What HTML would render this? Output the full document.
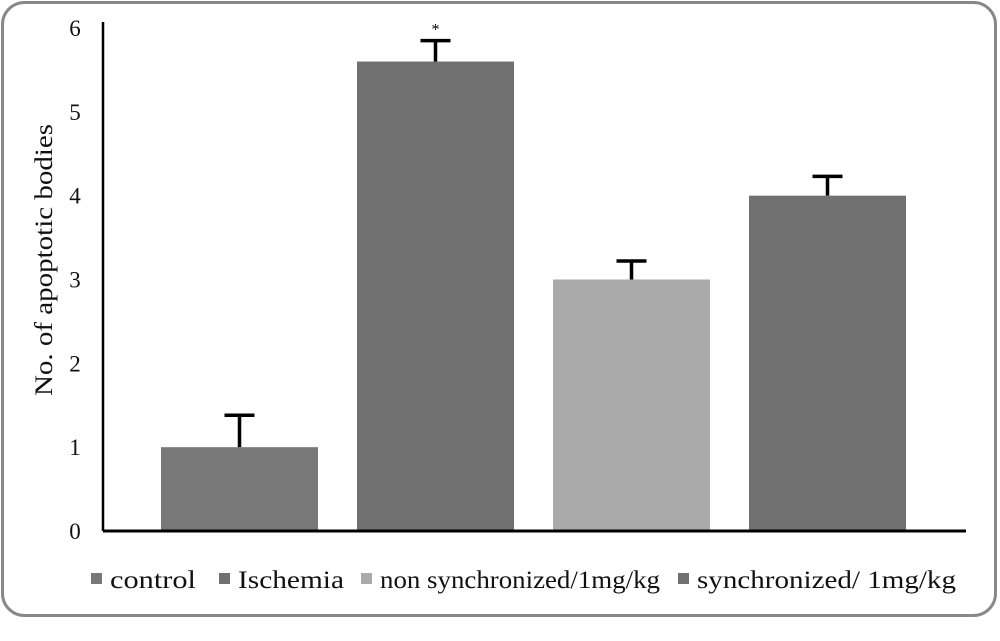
<!DOCTYPE html>
<html><head><meta charset="utf-8"><style>
html,body{margin:0;padding:0;background:#fff;}
svg{display:block;font-family:"Liberation Serif",serif;}
</style></head><body>
<svg width="1000" height="641" viewBox="0 0 1000 641">
<rect x="2.5" y="2.5" width="993" height="613" rx="22" fill="#fff" stroke="#888" stroke-width="3"/>
<g id="plot"></g>
<text transform="translate(52,260) rotate(-90)" text-anchor="middle" font-size="25" fill="#111" textLength="272" lengthAdjust="spacingAndGlyphs">No. of apoptotic bodies</text>
<g id="legend"></g>
</svg>
<script>
const categories=["control","Ischemia","non synchronized/1mg/kg","synchronized/ 1mg/kg"];
const values=[1.0,5.6,3.0,4.0];
const errors=[0.38,0.25,0.22,0.23];
const colors=["#787878","#717171","#aaaaaa","#717171"];
const yTicks=[0,1,2,3,4,5,6];
const stars=["","*","",""];
const NS="http://www.w3.org/2000/svg";
const x0=103,x1=966,y0=531,yTop=28,yMax=6;
const y=v=>y0-(y0-yTop)*v/yMax;
const step=196,bw=157,first=161;
const bx=i=>first+step*i;
function mk(tag,attrs,parent){const e=document.createElementNS(NS,tag);for(const k in attrs)e.setAttribute(k,attrs[k]);parent.appendChild(e);return e;}
const plot=document.getElementById('plot');
values.forEach((v,i)=>{
 const r=mk('rect',{x:bx(i),y:y(v),width:bw,height:y0-y(v),fill:colors[i]},plot);
 
 
 const cx=bx(i)+bw/2;
 const e=mk('path',{d:`M${cx} ${y(v)}V${y(v+errors[i])}M${cx-15} ${y(v+errors[i])}H${cx+15}`,stroke:'#000','stroke-width':3.5,fill:'none'},plot);
 
 
 if(stars[i]){const s=mk('text',{x:cx,y:y(v+errors[i])-6,'text-anchor':'middle','font-size':16},plot);s.textContent=stars[i];
 
 }
});
const ya=mk('line',{x1:x0,y1:22,x2:x0,y2:y0,stroke:'#000','stroke-width':2.5},plot);


const xa=mk('line',{x1:x0,y1:y0,x2:x1,y2:y0,stroke:'#000','stroke-width':3},plot);


yTicks.forEach(t=>{const tx=mk('text',{x:75,y:y(t)+8,'text-anchor':'middle','font-size':23,fill:'#111'},plot);tx.textContent=t;
 
 });
const lg=document.getElementById('legend');
const lx=[91,219,361,678],tl=[86,106,280,259];
categories.forEach((c,i)=>{
 const g=mk('g',{},lg);
 
 
 mk('rect',{x:lx[i],y:573,width:11,height:11,fill:colors[i]},g);
 const t=mk('text',{x:lx[i]+19,y:588,'font-size':25,fill:'#111',textLength:tl[i],lengthAdjust:'spacingAndGlyphs'},g);t.textContent=c;
});
</script>
</body></html>
